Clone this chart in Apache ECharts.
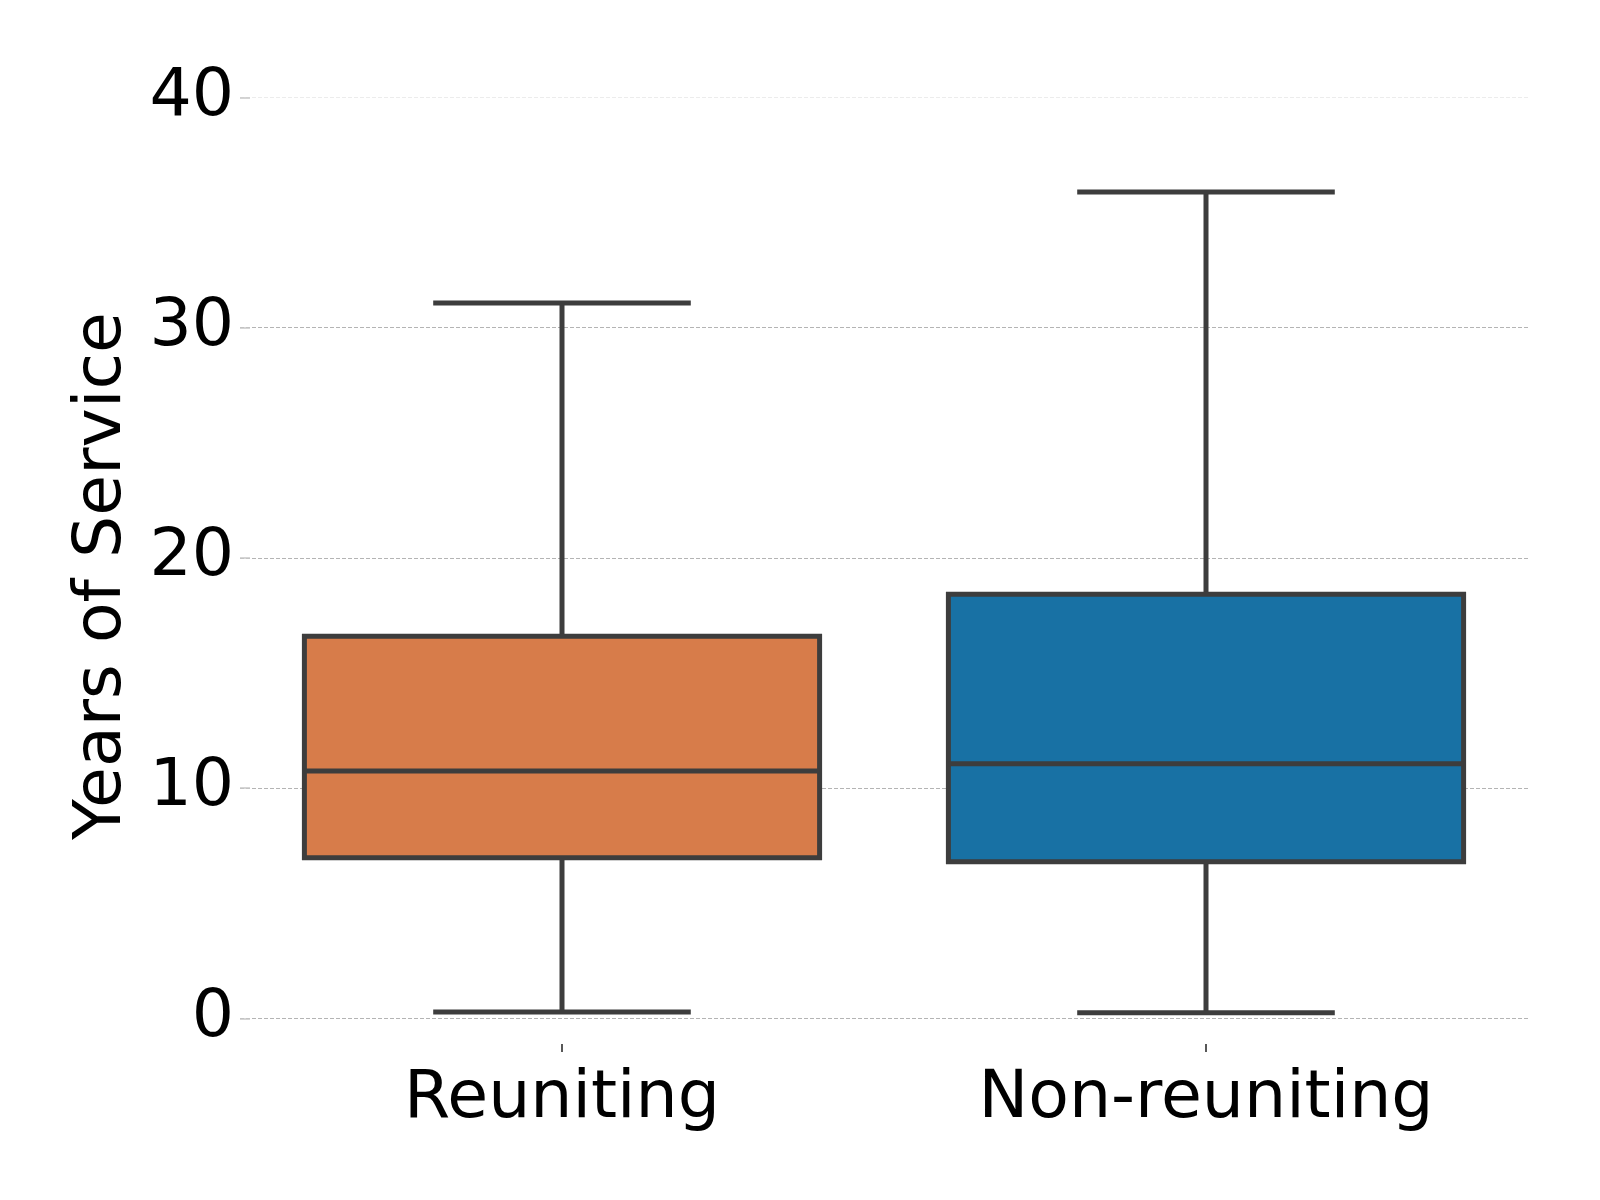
<!DOCTYPE html>
<html>
<head>
<meta charset="utf-8">
<script src="https://cdn.jsdelivr.net/npm/echarts@6/dist/echarts.min.js"></script>
<style>html,body{margin:0;padding:0;background:#fff}#c{width:1600px;height:1200px}</style>
</head>
<body>
<div id="c"></div>
<script>
// Data
const categories = ['Reuniting', 'Non-reuniting'];
const whiskerLow = [0.27, 0.24];
const q1Values = [6.97, 6.8];
const medianValues = [10.74, 11.06];
const q3Values = [16.6, 18.42];
const whiskerHigh = [31.07, 35.9];
const boxColors = ['#d77c4a', '#1871a4'];
const yTicks = [0, 10, 20, 30, 40];

const boxData = categories.map((c, i) => [i, whiskerLow[i], q1Values[i], medianValues[i], q3Values[i], whiskerHigh[i]]);

const edge = '#3d3d3d';
const lw = 5;
const fam = 'DejaVu Sans';

const chart = echarts.init(document.getElementById('c'), null, {renderer: 'canvas'});
chart.setOption({
  animation: false,
  backgroundColor: '#ffffff',
  grid: [
    {left: 240, right: 72, top: 97.5, bottom: 181.7},
    {left: 240, right: 72, top: 900, bottom: 156}
  ],
  xAxis: [{
    type: 'category',
    gridIndex: 0,
    data: categories,
    axisLine: {show: false},
    axisTick: {show: false},
    axisLabel: {show: false},
    splitLine: {show: false}
  }, {
    type: 'category',
    gridIndex: 1,
    data: categories,
    position: 'bottom',
    axisLine: {show: false},
    axisTick: {show: true, alignWithLabel: true, length: 8, lineStyle: {color: '#222', width: 1.5}},
    axisLabel: {color: '#000', fontFamily: fam, fontSize: 66.5, margin: 22},
    splitLine: {show: false}
  }],
  yAxis: [{
    type: 'value',
    gridIndex: 0,
    min: 0, max: 40, interval: 10,
    name: 'Years of Service',
    nameLocation: 'middle',
    nameGap: 104,
    nameTextStyle: {color: '#000', fontFamily: fam, fontSize: 66.5, padding: [0, 36, 0, 0]},
    axisLine: {show: false},
    axisTick: {show: true, inside: true, length: 10, lineStyle: {color: '#c8c8c8', width: 1.5}},
    axisLabel: {color: '#000', fontFamily: fam, fontSize: 66.5, margin: 6, padding: [14, 0, 0, 0],
      formatter: v => yTicks.includes(v) ? String(v) : ''},
    splitLine: {show: true, lineStyle: {color: ['#b4b4b4', '#b4b4b4', '#b4b4b4', '#b4b4b4', '#ececec'], width: 1, type: [4, 2]}}
  }, {
    type: 'value',
    gridIndex: 1,
    show: false
  }],
  series: [{
    type: 'custom',
    xAxisIndex: 0,
    yAxisIndex: 0,
    data: boxData,
    encode: {x: 0, y: [1, 2, 3, 4, 5]},
    z: 5,
    renderItem: function (params, api) {
      const idx = api.value(0);
      const band = api.size([1, 0])[0];
      const cx = api.coord([idx, 0])[0];
      const yLo = api.coord([idx, api.value(1)])[1];
      const yQ1 = api.coord([idx, api.value(2)])[1];
      const yMed = api.coord([idx, api.value(3)])[1];
      const yQ3 = api.coord([idx, api.value(4)])[1];
      const yHi = api.coord([idx, api.value(5)])[1];
      const bw = band * 0.8, cw = band * 0.4;
      const ls = {stroke: edge, lineWidth: lw};
      return {
        type: 'group',
        children: [
          {type: 'line', shape: {x1: cx, y1: yQ3, x2: cx, y2: yHi}, style: ls},
          {type: 'line', shape: {x1: cx, y1: yQ1, x2: cx, y2: yLo}, style: ls},
          {type: 'line', shape: {x1: cx - cw / 2, y1: yHi, x2: cx + cw / 2, y2: yHi}, style: ls},
          {type: 'line', shape: {x1: cx - cw / 2, y1: yLo, x2: cx + cw / 2, y2: yLo}, style: ls},
          {type: 'rect', shape: {x: cx - bw / 2, y: yQ3, width: bw, height: yQ1 - yQ3},
            style: {fill: boxColors[params.dataIndex], stroke: edge, lineWidth: lw}},
          {type: 'line', shape: {x1: cx - bw / 2, y1: yMed, x2: cx + bw / 2, y2: yMed}, style: ls}
        ]
      };
    }
  }]
});
</script>
</body>
</html>
